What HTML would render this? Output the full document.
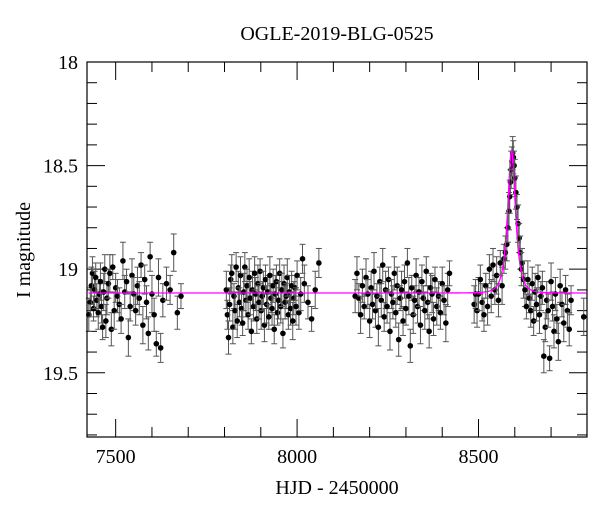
<!DOCTYPE html>
<html><head><meta charset="utf-8"><style>
body{margin:0;background:#fff;}
svg text{font-family:"Liberation Serif",serif;fill:#000;}
</style></head><body>
<svg id="chart" width="600" height="512" xmlns="http://www.w3.org/2000/svg">
<text x="337" y="40" font-size="20" text-anchor="middle">OGLE-2019-BLG-0525</text>
<text x="337" y="494" font-size="20" text-anchor="middle">HJD - 2450000</text>
<text x="30" y="250" font-size="20" text-anchor="middle" transform="rotate(-90 30 250)">I magnitude</text>
<g id="axes"></g>
<g id="marks"></g>
<rect x="87" y="62" width="500" height="375" fill="none" stroke="#000" stroke-width="1.2"/>
</svg>
<script>
const hjd = [7426,7430,7433,7436,7439,7442,7445,7448,7452,7455,7458,7461,7464,7467,7470,7473,7476,7480,7484,7488,7492,7496,7500,7505,7510,7515,7520,7525,7530,7535,7540,7545,7550,7555,7560,7565,7570,7575,7580,7585,7590,7595,7600,7606,7612,7618,7624,7630,7640,7650,7660,7670,7680,
7805,7808,7811,7814,7817,7820,7823,7826,7829,7832,7835,7838,7841,7844,7847,7850,7853,7856,7859,7862,7865,7868,7871,7874,7877,7880,7883,7886,7889,7892,7895,7898,7901,7904,7907,7910,7913,7916,7919,7922,7925,7928,7931,7934,7937,7940,7943,7946,7949,7952,7955,7958,7961,7964,7967,7970,7973,7976,7979,7982,7985,7988,7991,7994,7997,8000,8005,8010,8015,8020,8030,8040,8050,8060,
8160,8165,8170,8175,8180,8185,8190,8195,8200,8204,8208,8212,8216,8220,8224,8228,8232,8236,8240,8244,8248,8252,8256,8260,8264,8268,8272,8276,8280,8284,8288,8292,8296,8300,8304,8308,8312,8316,8320,8324,8328,8332,8336,8340,8344,8348,8352,8356,8360,8364,8368,8372,8376,8380,8385,8390,8395,8400,8405,8410,8415,8420,
8488,8492,8496,8500,8505,8510,8515,8520,8525,8530,
8535,8540,8545,8550,8555,8560,8565,8570,8574,8578,
8581,8584,8586,8588,8590,8592,8594,8596,8598,8600,
8603,8606,8609,8612,8615,8618,8620,8624,8628,8632,
8636,8640,8644,8648,8652,8656,8660,8664,8668,8672,
8676,8680,8684,8688,8692,8696,8700,8704,8708,8712,
8716,8720,8725,8730,8735,8740,8745,8750,8755,8790];
const imag = [19.22,19.16,19.08,19.02,19.19,19.10,19.04,19.15,19.21,19.12,19.06,19.18,19.28,19.11,19.00,19.25,19.14,19.07,19.02,19.29,18.99,19.20,19.09,19.13,19.17,19.24,18.96,19.11,19.06,19.33,19.18,19.03,19.12,19.20,19.08,19.14,18.98,19.27,19.05,19.16,19.31,18.94,19.12,19.22,19.36,19.04,19.38,19.15,19.07,19.10,18.92,19.21,19.13,
19.10,19.22,19.33,19.17,19.05,19.02,19.28,19.13,19.20,18.99,19.25,19.09,19.16,19.03,19.19,19.26,19.11,18.99,19.15,19.08,19.22,19.04,19.14,19.30,19.10,19.18,19.02,19.12,19.24,19.07,19.16,19.01,19.20,19.13,19.09,19.27,19.05,19.17,19.11,19.23,19.03,19.14,19.19,19.08,19.29,19.12,19.06,19.21,19.15,19.02,19.18,19.10,19.31,19.07,19.16,19.13,19.04,19.22,19.11,19.19,19.08,19.25,19.14,19.09,19.18,19.03,19.21,19.12,18.95,19.07,19.16,19.24,19.10,18.97,19.13,19.02,
19.14,19.22,19.08,19.18,19.04,19.12,19.25,19.09,19.17,19.01,19.20,19.13,19.28,19.06,19.15,18.98,19.23,19.10,19.18,19.05,19.30,19.12,19.16,19.02,19.21,19.08,19.34,19.14,19.10,19.25,19.06,19.19,18.97,19.13,19.37,19.09,19.22,19.15,19.03,19.18,19.11,19.27,19.06,19.14,19.20,19.01,19.16,19.30,19.09,19.12,19.24,19.05,19.18,19.13,19.21,19.07,19.15,19.26,19.10,19.02,19.17,19.12,
19.20,19.12,19.05,19.16,19.22,19.08,19.18,19.00,19.13,18.98,
19.10,19.03,19.15,18.97,19.08,18.95,18.92,18.88,18.80,18.72,
18.65,18.58,18.52,18.48,18.44,18.46,18.50,18.56,18.63,18.70,
18.78,18.85,18.92,19.00,18.97,19.05,19.10,19.18,19.05,19.14,
19.20,19.07,19.25,19.11,19.17,19.04,19.22,19.13,19.09,19.42,
19.28,19.15,19.20,19.43,19.06,19.18,19.30,19.12,19.24,19.35,
19.08,19.17,19.26,19.10,19.20,19.29,19.15,19.23,19.31,19.08];
const imagErr = [0.08,0.07,0.09,0.08,0.06,0.09,0.07,0.08];
const modelParams = {t0:8591, u0:0.6, tE:17, base:19.115};
const xTicksMajor = [7500,8000,8500];
const yTicksMajor = [18,18.5,19,19.5];

const axes = document.getElementById('axes');
const marks = document.getElementById('marks');
const NS = 'http://www.w3.org/2000/svg';
const X0=87,X1=587,Y0=62,Y1=437,TMIN=7421,TMAX=8799,MMIN=18.0,MMAX=19.81;
const xs = t => X0 + (t-TMIN)/(TMAX-TMIN)*(X1-X0);
const ys = m => Y0 + (m-MMIN)/(MMAX-MMIN)*(Y1-Y0);
function el(tag, attrs){const e=document.createElementNS(NS,tag);for(const k in attrs)e.setAttribute(k,attrs[k]);return e;}

for(let t=7500;t<=8700;t+=100){
  const major = xTicksMajor.includes(t);
  const len = major?18:10;
  const b = el('line',{x1:xs(t),x2:xs(t),y1:Y1,y2:Y1-len,stroke:'#000','stroke-width':1});
  
  
  axes.appendChild(b);
  const tp = el('line',{x1:xs(t),x2:xs(t),y1:Y0,y2:Y0+len,stroke:'#000','stroke-width':1});
  
  
  axes.appendChild(tp);
  if(major){
    const lb = el('text',{x:xs(t),y:Y1+26,'font-size':20,'text-anchor':'middle'});
    lb.textContent = t;
    
    
    axes.appendChild(lb);
  }
}
for(let i=0;i<=18;i++){
  const m = 18 + i*0.1;
  const major = yTicksMajor.some(v=>Math.abs(v-m)<1e-6);
  const len = major?18:10;
  const l = el('line',{x1:X0,x2:X0+len,y1:ys(m),y2:ys(m),stroke:'#000','stroke-width':1});
  
  
  axes.appendChild(l);
  const r = el('line',{x1:X1,x2:X1-len,y1:ys(m),y2:ys(m),stroke:'#000','stroke-width':1});
  
  
  axes.appendChild(r);
  if(major){
    const lb = el('text',{x:X0-9,y:ys(m)+7,'font-size':20,'text-anchor':'end'});
    lb.textContent = String(m.toFixed(1)).replace('.0','');
    
    
    axes.appendChild(lb);
  }
}
for(let i=0;i<Math.min(hjd.length,imag.length);i++){
  const x=xs(hjd[i]), m=imag[i], e=imagErr[i % imagErr.length];
  const g = el('g',{});
  
  
  g.appendChild(el('line',{x1:x,x2:x,y1:ys(m-e),y2:ys(m+e),stroke:'#555','stroke-width':1}));
  g.appendChild(el('line',{x1:x-3,x2:x+3,y1:ys(m-e),y2:ys(m-e),stroke:'#555','stroke-width':1}));
  g.appendChild(el('line',{x1:x-3,x2:x+3,y1:ys(m+e),y2:ys(m+e),stroke:'#555','stroke-width':1}));
  g.appendChild(el('circle',{cx:x,cy:ys(m),r:2.8,fill:'#000'}));
  marks.appendChild(g);
}
let d='';
for(let t=7425;t<=8797;t+=0.5){
  const u=Math.sqrt(modelParams.u0**2+((t-modelParams.t0)/modelParams.tE)**2);
  const A=(u*u+2)/(u*Math.sqrt(u*u+4));
  const m=modelParams.base-2.5*Math.log10(A);
  d+=(d?'L':'M')+xs(t).toFixed(2)+','+ys(m).toFixed(2);
}
const path = el('path',{d:d,fill:'none',stroke:'#ff00ff','stroke-width':1.3});


marks.appendChild(path);
</script>
</body></html>
